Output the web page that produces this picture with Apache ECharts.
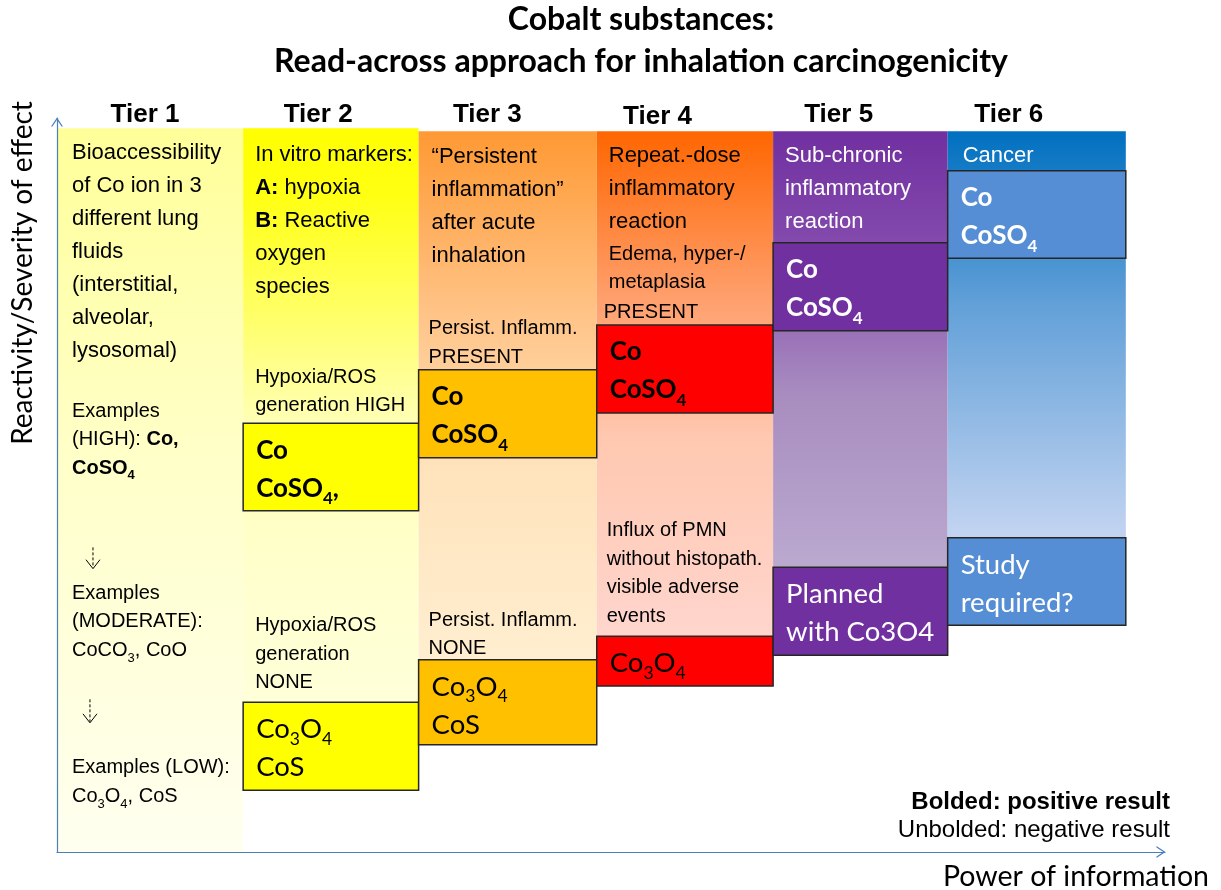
<!DOCTYPE html>
<html>
<head>
<meta charset="utf-8">
<script src="https://cdn.jsdelivr.net/npm/echarts@6/dist/echarts.min.js"></script>
<style>
html, body { margin: 0; padding: 0; background: #fff; }
#main { width: 1221px; height: 890px; }
</style>
</head>
<body>
<div id="main"></div>
<script>
// x: tiers along "power of information", y: reactivity/severity scale 0..100
const tiers = ['Tier 1', 'Tier 2', 'Tier 3', 'Tier 4', 'Tier 5', 'Tier 6'];
const tierEdges = [0, 1.045, 2.03, 3.03, 4.02, 5.0, 6.0];
const columnTop = [98.6, 98.6, 98.2, 98.2, 98.2, 98.2];
const columnBottom = [0, 8.4, 14.6, 22.6, 26.8, 30.9];

// result boxes (tier index, top / bottom level, substances)
const resultTier = [1, 1, 2, 2, 3, 3, 4, 4, 5, 5];
const resultTop = [58.4, 20.4, 65.7, 26.2, 71.8, 29.4, 83.0, 38.8, 92.8, 42.8];
const resultBottom = [46.5, 8.4, 53.7, 14.6, 59.8, 22.6, 71.0, 26.8, 80.9, 30.9];
const resultText = [
    '{b|Co}\n{b|CoSO}{bs|4}{b|,}',
    '{r|Co}{rs|3}{r|O}{rs|4}\n{r|CoS}',
    '{b|Co}\n{b|CoSO}{bs|4}',
    '{r|Co}{rs|3}{r|O}{rs|4}\n{r|CoS}',
    '{b|Co}\n{b|CoSO}{bs|4}',
    '{r|Co}{rs|3}{r|O}{rs|4}',
    '{b|Co}\n{b|CoSO}{bs|4}',
    '{r|Planned}\n{r|with Co3O4}',
    '{b|Co}\n{b|CoSO}{bs|4}',
    '{r|Study}\n{r|required?}'
];

// descriptive notes inside the tiers
const noteTier = [0, 0, 0, 0, 1, 1, 1, 2, 2, 2, 3, 3, 3, 3, 4, 5];
const noteLevel = [97.5, 62.0, 37.2, 13.4, 97.2, 66.6, 32.8, 96.9, 73.2, 33.5, 97.1, 83.4, 75.5, 45.7, 97.1, 97.1];
const noteText = [
    'Bioaccessibility\nof Co ion in 3\ndifferent lung\nfluids\n(interstitial,\nalveolar,\nlysosomal)',
    'Examples\n(HIGH): {nb|Co,}\n{nb|CoSO}{nbs|4}',
    'Examples\n(MODERATE):\nCoCO{ns|3}, CoO',
    'Examples (LOW):\nCo{ns|3}O{ns|4}, CoS',
    'In vitro markers:\n{nb|A:} hypoxia\n{nb|B:} Reactive\noxygen\nspecies',
    'Hypoxia/ROS\ngeneration HIGH',
    'Hypoxia/ROS\ngeneration\nNONE',
    '\u201cPersistent\ninflammation\u201d\nafter acute\ninhalation',
    'Persist. Inflamm.\nPRESENT',
    'Persist. Inflamm.\nNONE',
    'Repeat.-dose\ninflammatory\nreaction',
    'Edema, hyper-/\nmetaplasia',
    'PRESENT',
    'Influx of PMN\nwithout histopath.\nvisible adverse\nevents',
    'Sub-chronic\ninflammatory\nreaction',
    'Cancer'
];

// dashed "decreasing" arrows in tier 1
const arrowX = [0.202, 0.185];
const arrowTop = [41.5, 20.8];
const arrowBottom = [38.6, 17.6];

// ---- layout / style ----
const headerX = [0.494, 1.466, 2.416, 3.371, 4.388, 5.343];
const headerLevel = [100.5, 100.5, 100.5, 100.1, 100.5, 100.5];
const noteBig = [1, 0, 0, 0, 1, 0, 0, 1, 0, 0, 1, 0, 0, 0, 1, 1];
const noteIndent = [15, 15, 15, 15, 12, 12, 12, 13, 10, 10, 12, 12, 7, 10, 12, 15];
const tierGradient = [
    [['#FFFF99', 0], ['#FFFFC8', 0.45], ['#FFFFF0', 1]],
    [['#FFFF00', 0], ['#FFFF12', 0.1], ['#FFFF70', 0.3], ['#FFFFB8', 0.45], ['#FFFFD0', 0.7], ['#FFFFE0', 1]],
    [['#FF9933', 0], ['#FFC488', 0.3], ['#FFE3BC', 0.55], ['#FFF3D8', 1]],
    [['#FF6600', 0], ['#FF9F6C', 0.3], ['#FFC8B0', 0.55], ['#FFD8D4', 1]],
    [['#7030A0', 0], ['#8248AC', 0.2], ['#A88CBF', 0.5], ['#C4B8D8', 1]],
    [['#0070C0', 0], ['#62A0D8', 0.35], ['#BFD2F0', 0.8], ['#C8D8F4', 1]]
].map(s => s.map(c => ({color: c[0], offset: c[1]})));
const boxFill = ['#FFFFFF', '#FFFF00', '#FFC000', '#FF0000', '#7030A0', '#558ED5'];

const ARIAL = '"Liberation Sans", Arial, sans-serif';
const CALIBRI = 'Lato, "Open Sans", sans-serif';
const AX = '#4A7EBF';
const arrowHead = 'path://M0,9 L6,0 L12,9 L10.6,9 L6,2.2 L1.4,9 Z';

const chart = echarts.init(document.getElementById('main'), null, {renderer: 'canvas'});

function hiddenAxis(max) {
    return {
        type: 'value', min: 0, max: max, z: 10,
        axisLine: {show: true, symbol: ['none', arrowHead], symbolSize: [12, 9], symbolOffset: [0, -4],
            lineStyle: {color: AX, width: 1.2}},
        axisTick: {show: false}, axisLabel: {show: false}, splitLine: {show: false}
    };
}

function noteRich(size, lh) {
    return {
        nb: {fontFamily: ARIAL, fontSize: size, fontWeight: 'bold', lineHeight: lh},
        ns: {fontFamily: ARIAL, fontSize: 13, lineHeight: 14, verticalAlign: 'bottom'},
        nbs: {fontFamily: ARIAL, fontSize: 13, fontWeight: 'bold', lineHeight: 14, verticalAlign: 'bottom'}
    };
}

const option = {
    backgroundColor: '#fff',
    animation: false,
    title: {
        text: 'Cobalt substances:\nRead-across approach for inhalation carcinogenicity',
        left: 636, top: -6, textAlign: 'center',
        textStyle: {fontFamily: CALIBRI, fontWeight: 'bold', fontSize: 32, lineHeight: 42, color: '#000'}
    },
    grid: {left: 57, right: 56, top: 118, bottom: 38},
    xAxis: hiddenAxis(6.22),
    yAxis: hiddenAxis(100),
    graphic: [
        {type: 'text', x: 23, y: 273, rotation: Math.PI / 2,
            style: {text: 'Reactivity/Severity of effect', fill: '#000', fontFamily: CALIBRI, fontSize: 28,
                align: 'center', verticalAlign: 'middle'}},
        {type: 'text', x: 943, y: 877,
            style: {text: 'Power of information', fill: '#000', fontFamily: CALIBRI, fontSize: 28.5,
                align: 'left', verticalAlign: 'middle'}},
        {type: 'text', x: 1170, y: 802,
            style: {text: 'Bolded: positive result', fill: '#000', fontFamily: ARIAL, fontWeight: 'bold', fontSize: 24,
                align: 'right', verticalAlign: 'middle'}},
        {type: 'text', x: 1170, y: 830,
            style: {text: 'Unbolded: negative result', fill: '#000', fontFamily: ARIAL, fontSize: 24,
                align: 'right', verticalAlign: 'middle'}}
    ],
    series: [
        {
            // tier columns with gradient backgrounds and headers
            type: 'custom', z: 1, silent: true,
            data: tiers.map((t, i) => [tierEdges[i], tierEdges[i + 1], columnBottom[i], columnTop[i]]),
            renderItem: function (params, api) {
                const i = params.dataIndex;
                const tl = api.coord([api.value(0), api.value(3)]);
                const br = api.coord([api.value(1), api.value(2)]);
                const hd = api.coord([headerX[i], headerLevel[i]]);
                return {
                    type: 'group', children: [
                        {type: 'rect', shape: {x: tl[0], y: tl[1], width: br[0] - tl[0], height: br[1] - tl[1]},
                            style: {fill: new echarts.graphic.LinearGradient(0, 0, 0, 1, tierGradient[i])}},
                        {type: 'text', x: hd[0], y: hd[1],
                            style: {text: tiers[i], fill: '#000', fontFamily: ARIAL, fontWeight: 'bold', fontSize: 26,
                                align: 'center', verticalAlign: 'middle'}}
                    ]
                };
            }
        },
        {
            // notes
            type: 'custom', z: 2, silent: true,
            data: noteText.map((t, i) => [tierEdges[noteTier[i]], noteLevel[i]]),
            renderItem: function (params, api) {
                const i = params.dataIndex;
                const p = api.coord([api.value(0), api.value(1)]);
                const size = noteBig[i] ? 22 : 20;
                const lh = noteBig[i] ? 33 : 28.5;
                return {
                    type: 'text', x: p[0] + noteIndent[i], y: p[1],
                    style: {text: noteText[i], rich: noteRich(size, lh), fill: noteTier[i] >= 4 ? '#fff' : '#000',
                        fontFamily: ARIAL, fontSize: size, lineHeight: lh, align: 'left', verticalAlign: 'top'}
                };
            }
        },
        {
            // dashed arrows
            type: 'custom', z: 2, silent: true,
            data: arrowX.map((x, i) => [x, arrowTop[i], arrowBottom[i]]),
            renderItem: function (params, api) {
                const a = api.coord([api.value(0), api.value(1)]);
                const b = api.coord([api.value(0), api.value(2)]);
                return {
                    type: 'group', children: [
                        {type: 'line', shape: {x1: a[0], y1: a[1], x2: b[0], y2: b[1] - 1},
                            style: {stroke: '#000', lineWidth: 1, lineDash: [3, 2]}},
                        {type: 'polyline', shape: {points: [[b[0] - 7, b[1] - 9], [b[0], b[1]], [b[0] + 7, b[1] - 9]]},
                            style: {stroke: '#000', lineWidth: 1, fill: null}}
                    ]
                };
            }
        },
        {
            // result boxes
            type: 'custom', z: 3, silent: true,
            data: resultTier.map((t, i) => [tierEdges[t], tierEdges[t + 1], resultBottom[i], resultTop[i]]),
            renderItem: function (params, api) {
                const i = params.dataIndex;
                const t = resultTier[i];
                const tl = api.coord([api.value(0), api.value(3)]);
                const br = api.coord([api.value(1), api.value(2)]);
                const col = t >= 4 ? '#fff' : '#000';
                return {
                    type: 'group', children: [
                        {type: 'rect', shape: {x: tl[0], y: tl[1], width: br[0] - tl[0], height: br[1] - tl[1]},
                            style: {fill: boxFill[t], stroke: '#262626', lineWidth: 1.5}},
                        {type: 'text', x: tl[0] + 13, y: tl[1] + 8,
                            style: {
                                text: resultText[i], fill: col, align: 'left', verticalAlign: 'top',
                                fontFamily: CALIBRI, fontSize: 27, lineHeight: 38,
                                rich: {
                                    b: {fontFamily: CALIBRI, fontSize: 26, fontWeight: 'bold', lineHeight: 38},
                                    bs: {fontFamily: CALIBRI, fontSize: 17, fontWeight: 'bold', lineHeight: 18, verticalAlign: 'bottom'},
                                    r: {fontFamily: CALIBRI, fontSize: 27.5, lineHeight: 38},
                                    rs: {fontFamily: CALIBRI, fontSize: 17.5, lineHeight: 18, verticalAlign: 'bottom'}
                                }
                            }}
                    ]
                };
            }
        }
    ]
};

chart.setOption(option);
</script>
</body>
</html>
